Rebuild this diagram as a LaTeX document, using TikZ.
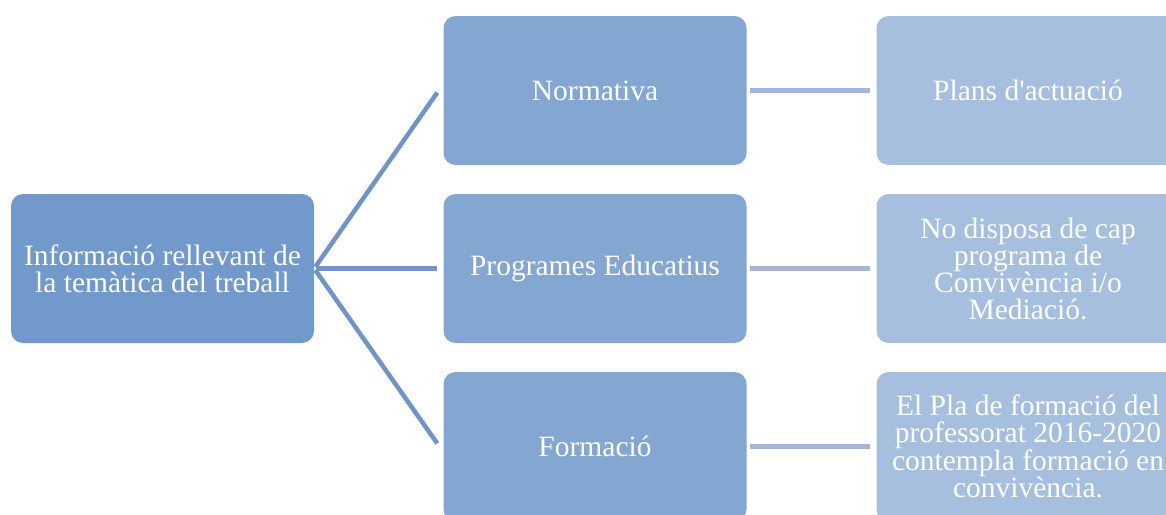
\documentclass[tikz,border=0pt]{standalone}
\usepackage{fontspec}
\newfontfamily\boxfont{Liberation Serif}
\usetikzlibrary{calc}
\definecolor{rootfill}{HTML}{7199CB}
\definecolor{midfill}{HTML}{84A7D1}
\definecolor{rightfill}{HTML}{A7BFDE}
\definecolor{rootline}{HTML}{7193C6}
\definecolor{rightline}{HTML}{A3B6D9}
\tikzset{
  box/.style={rectangle, rounded corners=12pt, minimum width=303pt, minimum height=149pt,
    inner sep=0pt, text=white, align=center, font=\boxfont\fontsize{29.5}{27}\selectfont},
  rootbox/.style={box, fill=rootfill},
  midbox/.style={box, fill=midfill},
  rightbox/.style={box, fill=rightfill},
  rootconn/.style={draw=rootline, line width=4.5pt, shorten <=2pt},
  rightconn/.style={draw=rightline, line width=4.5pt, shorten <=3pt, shorten >=6pt}
}
\begin{document}
\begin{tikzpicture}[x=1pt,y=-1pt]
\useasboundingbox (0,0) rectangle (1166,514);
\clip (0,0) rectangle (1166,514);
\node[rootbox] (root) at (162.5,268.5) {Informació rellevant de\\la temàtica del treball};
\node[midbox] (n1) at (595,90.5) {Normativa};
\node[midbox] (n2) at (595,268.5) {Programes Educatius};
\node[midbox] (n3) at (595,446.5) {Formació};
\node[rightbox] (r1) at (1028,90.5) {Plans d'actuació};
\node[rightbox] (r2) at (1028,268.5) {No disposa de cap\\programa de\\Convivència i/o\\Mediació.};
\node[rightbox] (r3) at (1028,446.5) {El Pla de formació del\\professorat 2016-2020\\contempla formació en\\convivència.};
\coordinate (e1) at ($(n1.west)+(-6,2)$);
\coordinate (e2) at ($(n2.west)+(-6,0)$);
\coordinate (e3) at ($(n3.west)+(-6,-3)$);
\draw[rootconn] (root.east) -- (e1);
\draw[rootconn] (root.east) -- (e2);
\draw[rootconn] (root.east) -- (e3);
\draw[rightconn] (n1.east) -- (r1.west);
\draw[rightconn] (n2.east) -- (r2.west);
\draw[rightconn] (n3.east) -- (r3.west);
\end{tikzpicture}
\end{document}
